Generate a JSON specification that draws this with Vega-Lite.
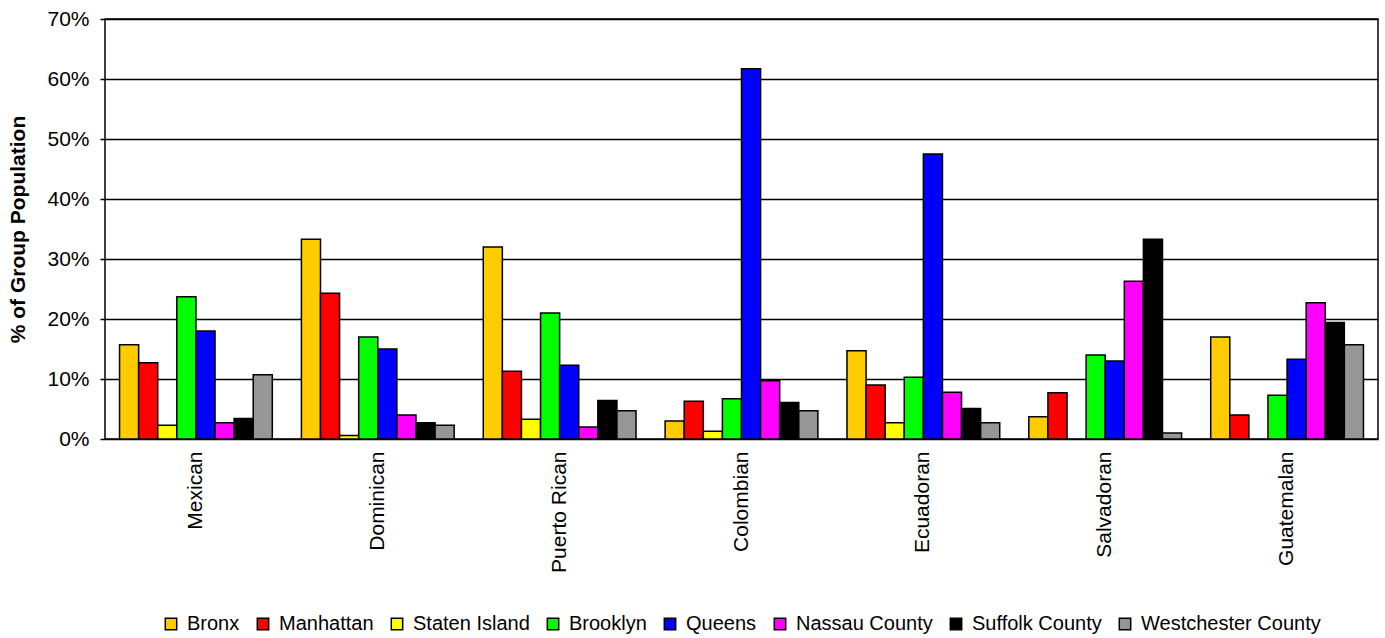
{
  "$schema": "https://vega.github.io/schema/vega-lite/v6.json",
  "width": 1273,
  "height": 420,
  "autosize": "none",
  "padding": {"left": 105, "top": 19, "right": 7, "bottom": 199},
  "background": "white",
  "config": {
    "font": "Liberation Sans",
    "view": {"stroke": "black", "strokeWidth": 1.5},
    "axis": {"labelFont": "Liberation Sans", "labelColor": "black", "titleColor": "black"}
  },
  "data": {
    "values": [
      {"group": "Mexican", "borough": "Bronx", "pct": 15.7},
      {"group": "Mexican", "borough": "Manhattan", "pct": 12.7},
      {"group": "Mexican", "borough": "Staten Island", "pct": 2.3},
      {"group": "Mexican", "borough": "Brooklyn", "pct": 23.7},
      {"group": "Mexican", "borough": "Queens", "pct": 18.0},
      {"group": "Mexican", "borough": "Nassau County", "pct": 2.7},
      {"group": "Mexican", "borough": "Suffolk County", "pct": 3.4},
      {"group": "Mexican", "borough": "Westchester County", "pct": 10.7},
      {"group": "Dominican", "borough": "Bronx", "pct": 33.3},
      {"group": "Dominican", "borough": "Manhattan", "pct": 24.3},
      {"group": "Dominican", "borough": "Staten Island", "pct": 0.6},
      {"group": "Dominican", "borough": "Brooklyn", "pct": 17.0},
      {"group": "Dominican", "borough": "Queens", "pct": 15.0},
      {"group": "Dominican", "borough": "Nassau County", "pct": 4.0},
      {"group": "Dominican", "borough": "Suffolk County", "pct": 2.7},
      {"group": "Dominican", "borough": "Westchester County", "pct": 2.3},
      {"group": "Puerto Rican", "borough": "Bronx", "pct": 32.0},
      {"group": "Puerto Rican", "borough": "Manhattan", "pct": 11.3},
      {"group": "Puerto Rican", "borough": "Staten Island", "pct": 3.3},
      {"group": "Puerto Rican", "borough": "Brooklyn", "pct": 21.0},
      {"group": "Puerto Rican", "borough": "Queens", "pct": 12.3},
      {"group": "Puerto Rican", "borough": "Nassau County", "pct": 2.0},
      {"group": "Puerto Rican", "borough": "Suffolk County", "pct": 6.4},
      {"group": "Puerto Rican", "borough": "Westchester County", "pct": 4.7},
      {"group": "Colombian", "borough": "Bronx", "pct": 3.0},
      {"group": "Colombian", "borough": "Manhattan", "pct": 6.3},
      {"group": "Colombian", "borough": "Staten Island", "pct": 1.3},
      {"group": "Colombian", "borough": "Brooklyn", "pct": 6.7},
      {"group": "Colombian", "borough": "Queens", "pct": 61.7},
      {"group": "Colombian", "borough": "Nassau County", "pct": 9.7},
      {"group": "Colombian", "borough": "Suffolk County", "pct": 6.1},
      {"group": "Colombian", "borough": "Westchester County", "pct": 4.7},
      {"group": "Ecuadoran", "borough": "Bronx", "pct": 14.7},
      {"group": "Ecuadoran", "borough": "Manhattan", "pct": 9.0},
      {"group": "Ecuadoran", "borough": "Staten Island", "pct": 2.7},
      {"group": "Ecuadoran", "borough": "Brooklyn", "pct": 10.3},
      {"group": "Ecuadoran", "borough": "Queens", "pct": 47.5},
      {"group": "Ecuadoran", "borough": "Nassau County", "pct": 7.8},
      {"group": "Ecuadoran", "borough": "Suffolk County", "pct": 5.1},
      {"group": "Ecuadoran", "borough": "Westchester County", "pct": 2.7},
      {"group": "Salvadoran", "borough": "Bronx", "pct": 3.7},
      {"group": "Salvadoran", "borough": "Manhattan", "pct": 7.7},
      {"group": "Salvadoran", "borough": "Brooklyn", "pct": 14.0},
      {"group": "Salvadoran", "borough": "Queens", "pct": 13.0},
      {"group": "Salvadoran", "borough": "Nassau County", "pct": 26.3},
      {"group": "Salvadoran", "borough": "Suffolk County", "pct": 33.3},
      {"group": "Salvadoran", "borough": "Westchester County", "pct": 1.0},
      {"group": "Guatemalan", "borough": "Bronx", "pct": 17.0},
      {"group": "Guatemalan", "borough": "Manhattan", "pct": 4.0},
      {"group": "Guatemalan", "borough": "Brooklyn", "pct": 7.3},
      {"group": "Guatemalan", "borough": "Queens", "pct": 13.3},
      {"group": "Guatemalan", "borough": "Nassau County", "pct": 22.7},
      {"group": "Guatemalan", "borough": "Suffolk County", "pct": 19.4},
      {"group": "Guatemalan", "borough": "Westchester County", "pct": 15.7}
    ]
  },
  "mark": {"type": "bar", "stroke": "black", "strokeWidth": 1.5},
  "encoding": {
    "x": {
      "field": "group",
      "type": "nominal",
      "sort": ["Mexican", "Dominican", "Puerto Rican", "Colombian", "Ecuadoran", "Salvadoran", "Guatemalan"],
      "scale": {"paddingInner": 0.16, "paddingOuter": 0.08},
      "axis": {
        "title": null,
        "labelAngle": -90,
        "labelFontSize": 21,
        "labelPadding": 12,
        "labelLimit": 300,
        "ticks": false,
        "domain": false,
        "grid": false
      }
    },
    "xOffset": {
      "field": "borough",
      "type": "nominal",
      "sort": ["Bronx", "Manhattan", "Staten Island", "Brooklyn", "Queens", "Nassau County", "Suffolk County", "Westchester County"],
      "scale": {"domain": ["Bronx", "Manhattan", "Staten Island", "Brooklyn", "Queens", "Nassau County", "Suffolk County", "Westchester County"], "paddingInner": 0, "paddingOuter": 0}
    },
    "y": {
      "field": "pct",
      "type": "quantitative",
      "scale": {"domain": [0, 70], "nice": false},
      "axis": {
        "title": "% of Group Population",
        "titleFontSize": 21,
        "titleFontWeight": "bold",
        "titlePadding": 18,
        "values": [0, 10, 20, 30, 40, 50, 60, 70],
        "labelExpr": "datum.value + '%'",
        "labelFontSize": 21,
        "labelPadding": 11,
        "tickSize": 5,
        "tickColor": "black",
        "tickWidth": 1.5,
        "grid": true,
        "gridColor": "black",
        "gridWidth": 1.5,
        "gridOpacity": 1,
        "domain": false
      }
    },
    "color": {
      "field": "borough",
      "type": "nominal",
      "scale": {
        "domain": ["Bronx", "Manhattan", "Staten Island", "Brooklyn", "Queens", "Nassau County", "Suffolk County", "Westchester County"],
        "range": ["#FFCC00", "#FF0000", "#FFFF00", "#00FF00", "#0000FF", "#FF00FF", "#000000", "#969696"]
      },
      "legend": {
        "title": null,
        "orient": "none",
        "direction": "horizontal",
        "legendX": 56,
        "legendY": 595,
        "symbolType": "square",
        "symbolSize": 130,
        "symbolStrokeColor": "black",
        "symbolStrokeWidth": 1.5,
        "symbolOpacity": 1,
        "labelFontSize": 20,
        "labelLimit": 400,
        "labelColor": "black",
        "labelOffset": 6,
        "columnPadding": 13
      }
    }
  }
}
